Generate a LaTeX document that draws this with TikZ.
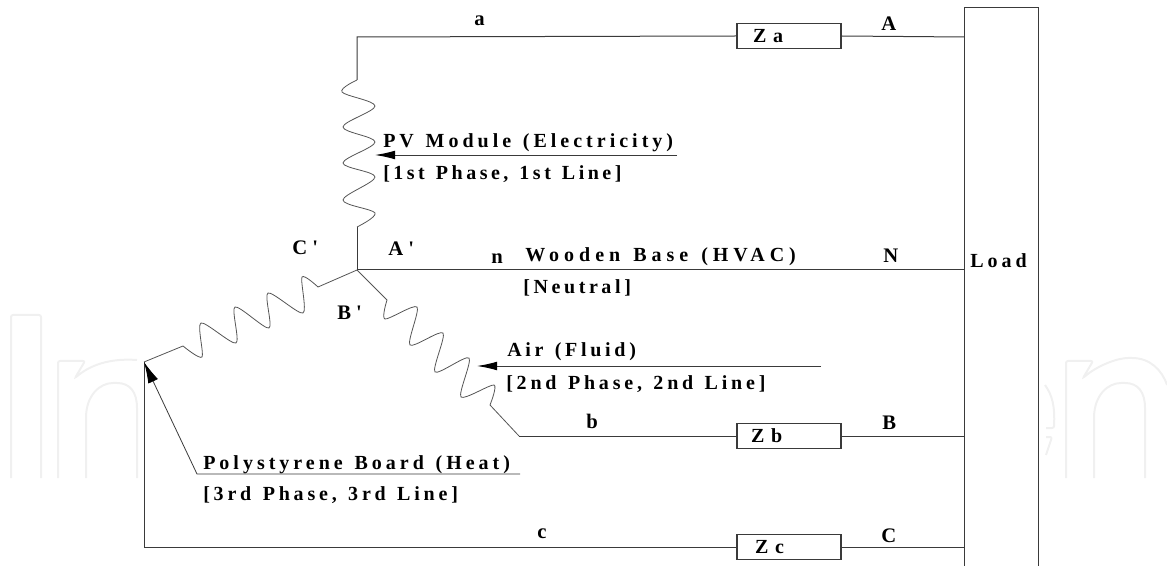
\documentclass[tikz,border=0pt]{standalone}
\usepackage{fontspec}
\setmainfont{Liberation Serif}
\newfontfamily\lblfont[WordSpace=1.3]{Liberation Serif}
\newfontfamily\tagfont{Liberation Serif}
\newcommand{\spaced}[2]{{\addfontfeature{LetterSpace=#1}#2}}
\usetikzlibrary{arrows.meta}
\definecolor{wirec}{HTML}{3A3A3A}
\definecolor{coilc}{HTML}{555555}
\definecolor{markc}{HTML}{F0F0F0}
\tikzset{
 wire/.style={draw=wirec,line width=0.75pt},
 coil/.style={draw=coilc,line width=0.6pt},
 lbl/.style={anchor=base west,inner sep=0pt,font=\fontsize{15pt}{17pt}\lblfont\bfseries,text=black},
 tag/.style={anchor=base west,inner sep=0pt,font=\fontsize{15.5pt}{17pt}\tagfont\bfseries,text=black},
 zbox/.style={draw=wirec,line width=0.8pt,minimum width=78pt,minimum height=18.8pt,inner xsep=0pt,inner ysep=0pt,text width=78pt,align=left,font=\fontsize{15pt}{17pt}\tagfont\bfseries},
 pointer/.style={draw=wirec,line width=0.7pt,-{Latex[length=15pt,width=6.5pt,black]}},
 pointerb/.style={draw=wirec,line width=0.6pt,-{Latex[length=16pt,width=8pt,black]}},
 wmark/.style={draw=markc,line width=1.5pt,rounded corners=1.5pt}
}
\begin{document}
\begin{tikzpicture}[x=0.75pt,y=-0.75pt]
\useasboundingbox (0,0) rectangle (1167,566);
% faint background lettering
\draw[wmark] (11,478) -- (11,315) -- (41,315) -- (41,478);
\draw[wmark] (58,478) -- (58,361) -- (85,361) -- (75,378) .. controls (90,365) and (110,358) .. (137,360);
\draw[wmark] (86,478) -- (86,420) .. controls (86,395) and (100,383) .. (115,383) .. controls (130,383) and (137,392) .. (137,410) -- (137,478);
\draw[wmark] (1045,385) .. controls (1052,395) and (1055,405) .. (1054,428) -- (1046,428);
\draw[wmark] (1046,437) -- (1052,437) -- (1046,455);
\draw[wmark] (1066,478) -- (1066,361) -- (1093,361) -- (1083,378) .. controls (1098,365) and (1118,358) .. (1130,358) .. controls (1150,358) and (1162,370) .. (1167,385);
\draw[wmark] (1094,478) -- (1094,420) .. controls (1094,395) and (1108,383) .. (1123,383) .. controls (1138,383) and (1145,392) .. (1145,410) -- (1145,478);
% junctions
\coordinate (star) at (357,270);
\coordinate (atop) at (357,37);
\coordinate (aS) at (357,80);
\coordinate (aE) at (357,227);
\coordinate (bS) at (387,300);
\coordinate (bE) at (490,405);
\coordinate (bcorner) at (519,436);
\coordinate (cS) at (318,287);
\coordinate (cE) at (183,346);
\coordinate (cend) at (144,362);
\coordinate (cbot) at (144,547);
\coordinate (lb) at (964,566);
\coordinate (lt) at (964,8);
\coordinate (rt) at (1038,8);
\coordinate (rb) at (1038,566);
\coordinate (nL) at (964,270);
\coordinate (aL) at (964,37);
\coordinate (bL) at (964,436);
\coordinate (cL) at (964,547);
\coordinate (pv1) at (677,155);
\coordinate (pv2) at (375,155);
\coordinate (air1) at (821,366);
\coordinate (air2) at (477,366);
\coordinate (ps1) at (520,474);
\coordinate (ps2) at (197,474);
% boxes
\node[zbox] (za) at (789,36) {\hspace*{12pt}\raisebox{-2pt}{Z a}};
\node[zbox] (zb) at (789,436) {\hspace*{10.5pt}\raisebox{-2pt}{Z b}};
\node[zbox] (zc) at (789,547) {\hspace*{13.5pt}\raisebox{-2pt}{Z c}};
% lines
\draw[wire] (aS) -- (atop) -- (za.west);
\draw[wire] (za.east) -- (aL);
\draw[wire] (star) -- (aE);
\draw[wire] (star) -- (nL);
\draw[wire] (bcorner) -- (zb.west);
\draw[wire] (zb.east) -- (bL);
\draw[wire] (cend) -- (cbot) -- (zc.west);
\draw[wire] (zc.east) -- (cL);
\draw[wire] (lb) -- (lt) -- (rt) -- (rb);
\draw[coil] (star) -- (bS);
\draw[coil] (star) -- (cS);
\draw[coil] (bE) -- (bcorner);
\draw[coil] (cE) -- (cend);
% coils
\draw[coil] plot[smooth,tension=.55] coordinates {(aS) (342,92) (375,106) (343,127) (375,142) (343,163) (375,177) (343,200) (375,213) (aE)};
\draw[coil] plot[smooth,tension=.45] coordinates {(bS) (385,319) (417,307) (410,345) (443,333) (435,372) (469,358) (461,397) (494,385) (bE)};
\draw[coil] plot[smooth,tension=.45] coordinates {(cS) (302,277) (303,313) (268,293) (269,328) (235,307) (236,343) (201,323) (202,357) (cE)};
% pointers
\draw[pointer] (pv1) -- (pv2);
\draw[pointer] (air1) -- (air2);
\draw[pointerb] (ps1) -- (ps2) -- (cend);
% labels
\node[lbl] (t1) at (383,148) {\spaced{20}{PV Module (Electricity)}};
\node[lbl] (t2) at (383,180) {\spaced{17.5}{[1st Phase, 1st Line]}};
\node[lbl] (t3) at (525,262) {\spaced{25}{Wooden Base (HVAC)}};
\node[lbl] (t4) at (523,294) {\spaced{18}{[Neutral]}};
\node[lbl] (t5) at (507,357) {\spaced{18.5}{Air (Fluid)}};
\node[lbl] (t6) at (506,390) {\spaced{19}{[2nd Phase, 2nd Line]}};
\node[lbl] (t7) at (203,469) {\spaced{20}{Polystyrene Board (Heat)}};
\node[lbl] (t8) at (203,500) {\spaced{19}{[3rd Phase, 3rd Line]}};
\node[tag] (la) at (474,26) {a};
\node[tag] (lA) at (881,31) {A};
\node[tag] (lb2) at (586,428) {b};
\node[tag] (lB) at (882,430) {B};
\node[tag] (lc) at (537,538) {c};
\node[tag] (lC) at (881,542) {C};
\node[tag] (ln) at (491,264) {n};
\node[tag] (lN) at (883,263) {N};
\node[tag] (lAp) at (388,256) {A '};
\node[tag] (lBp) at (337,320) {B '};
\node[tag] (lCp) at (292,255) {C '};
\node[lbl] (load) at (970,268) {\spaced{20}{Load}};
\end{tikzpicture}
\end{document}
